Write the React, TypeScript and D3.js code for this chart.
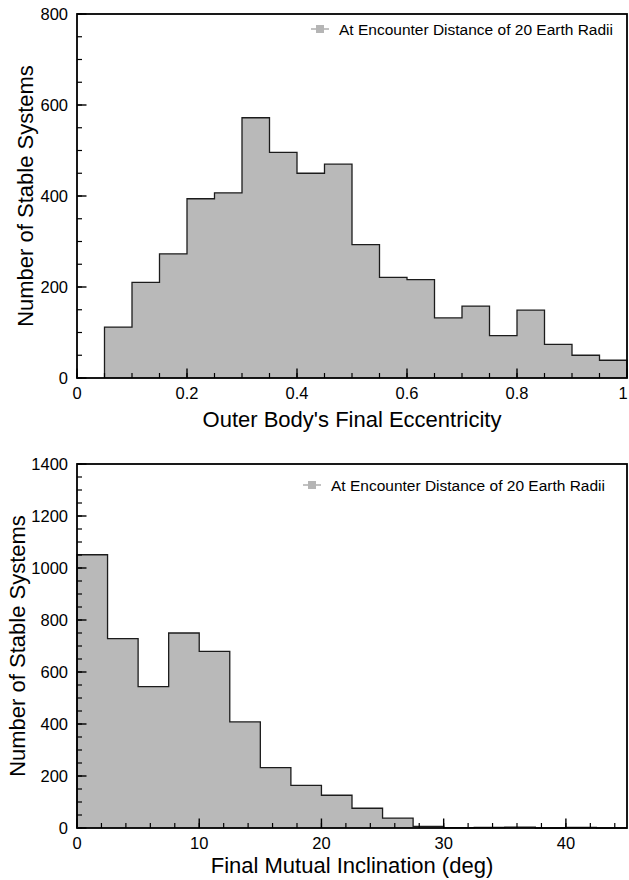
import React from "react";
import * as d3 from "d3";

// ---- Data ----
const eccBinEdges = [0.05, 0.1, 0.15, 0.2, 0.25, 0.3, 0.35, 0.4, 0.45, 0.5, 0.55, 0.6, 0.65, 0.7, 0.75, 0.8, 0.85, 0.9, 0.95, 1.0];
const eccCounts = [112, 210, 273, 394, 407, 572, 496, 450, 470, 293, 221, 216, 132, 158, 93, 149, 74, 50, 39];
const eccXTicks = [0, 0.2, 0.4, 0.6, 0.8, 1];
const eccYTicks = [0, 200, 400, 600, 800];

const incBinEdges = [0, 2.5, 5, 7.5, 10, 12.5, 15, 17.5, 20, 22.5, 25, 27.5, 30, 32.5, 35, 37.5, 40, 42.5, 45];
const incCounts = [1051, 728, 544, 750, 679, 408, 232, 164, 126, 76, 38, 6, 1, 2, 3, 0, 2, 0];
const incXTicks = [0, 10, 20, 30, 40];
const incYTicks = [0, 200, 400, 600, 800, 1000, 1200, 1400];

const legendLabel = "At Encounter Distance of 20 Earth Radii";
const yTitle = "Number of Stable Systems";

const FONT = "'Liberation Sans', Arial, Helvetica, sans-serif";

type PanelProps = {
  edges: number[];
  counts: number[];
  xDomain: [number, number];
  yDomain: [number, number];
  xTicks: number[];
  xMinorStep: number;
  yTicks: number[];
  yMinorStep: number;
  top: number;
  bottom: number;
  xTitle: string;
  xTitleY: number;
  yTitleX: number;
  legendX: number;
  legendY: number;
  fmt: (v: number) => string;
};

function Panel(p: PanelProps) {
  const left = 77;
  const right = 627;
  const x = d3.scaleLinear().domain(p.xDomain).range([left, right]);
  const y = d3.scaleLinear().domain(p.yDomain).range([p.bottom, p.top]);

  const n = p.counts.length;
  const pts: [number, number][] = [];
  pts.push([p.edges[0], 0]);
  for (let i = 0; i < n; i++) {
    pts.push([p.edges[i], p.counts[i]]);
    pts.push([p.edges[i + 1], p.counts[i]]);
  }
  pts.push([p.edges[n], 0]);
  const line = d3.line<[number, number]>().x((d) => x(d[0])).y((d) => y(d[1]));
  const path = line(pts) || "";
  const fillPath = path + "Z";

  const xMinor = d3.range(p.xDomain[0], p.xDomain[1] + 1e-9, p.xMinorStep);
  const yMinor = d3.range(p.yDomain[0], p.yDomain[1] + 1e-9, p.yMinorStep);
  const midY = (p.top + p.bottom) / 2;

  return (
    <g>
      <path d={fillPath} fill="#b9b9b9" stroke="none" />
      <path d={path} fill="none" stroke="#1c1c1c" strokeWidth={1.3} />
      {xMinor.map((v, i) => (
        <line key={"xm" + i} x1={x(v)} x2={x(v)} y1={p.bottom} y2={p.bottom - 5} stroke="#000" strokeWidth={1.2} />
      ))}
      {p.xTicks.map((v, i) => (
        <line key={"xM" + i} x1={x(v)} x2={x(v)} y1={p.bottom} y2={p.bottom - 9.5} stroke="#000" strokeWidth={1.4} />
      ))}
      {yMinor.map((v, i) => (
        <line key={"ym" + i} x1={left} x2={left + 5} y1={y(v)} y2={y(v)} stroke="#000" strokeWidth={1.2} />
      ))}
      {p.yTicks.map((v, i) => (
        <line key={"yM" + i} x1={left} x2={left + 9.5} y1={y(v)} y2={y(v)} stroke="#000" strokeWidth={1.4} />
      ))}
      <rect x={left} y={p.top} width={right - left} height={p.bottom - p.top} fill="none" stroke="#000" strokeWidth={1.8} />
      {p.xTicks.map((v, i) => (
        <text
          key={"xl" + i}
          x={Math.min(x(v), 623)}
          y={p.bottom + 21}
          textAnchor="middle"
          fontSize={16.5}
          fontFamily={FONT}
          fill="#000"
        >
          {p.fmt(v)}
        </text>
      ))}
      {p.yTicks.map((v, i) => (
        <text key={"yl" + i} x={68} y={y(v)} dy="0.36em" textAnchor="end" fontSize={16.5} fontFamily={FONT} fill="#000">
          {String(v)}
        </text>
      ))}
      <text x={(left + right) / 2} y={p.xTitleY} textAnchor="middle" fontSize={22} fontFamily={FONT} fill="#000">
        {p.xTitle}
      </text>
      <text
        transform={`translate(${p.yTitleX},${midY}) rotate(-90)`}
        textAnchor="middle"
        fontSize={22}
        fontFamily={FONT}
        fill="#000"
      >
        {yTitle}
      </text>
      <g>
        <line x1={p.legendX} x2={p.legendX + 18} y1={p.legendY} y2={p.legendY} stroke="#999" strokeWidth={1.2} />
        <rect x={p.legendX + 5} y={p.legendY - 4} width={8} height={8} fill="#b5b5b5" />
        <text x={p.legendX + 28} y={p.legendY} dy="0.36em" fontSize={15.5} fontFamily={FONT} fill="#000">
          {legendLabel}
        </text>
      </g>
    </g>
  );
}

export default function App() {
  return (
    <svg width={629} height={880} style={{ position: "absolute", left: 0, top: 0, background: "#fff" }}>
      <rect x={0} y={0} width={629} height={880} fill="#fff" />
      <Panel
        edges={eccBinEdges}
        counts={eccCounts}
        xDomain={[0, 1]}
        yDomain={[0, 800]}
        xTicks={eccXTicks}
        xMinorStep={0.05}
        yTicks={eccYTicks}
        yMinorStep={50}
        top={14}
        bottom={378}
        xTitle="Outer Body's Final Eccentricity"
        xTitleY={427}
        yTitleX={33}
        legendX={311}
        legendY={29}
        fmt={(v) => (v === 0 || v === 1 ? String(v) : v.toFixed(1))}
      />
      <Panel
        edges={incBinEdges}
        counts={incCounts}
        xDomain={[0, 45]}
        yDomain={[0, 1400]}
        xTicks={incXTicks}
        xMinorStep={2}
        yTicks={incYTicks}
        yMinorStep={50}
        top={464}
        bottom={828}
        xTitle="Final Mutual Inclination (deg)"
        xTitleY={873}
        yTitleX={25}
        legendX={303}
        legendY={485}
        fmt={(v) => String(v)}
      />
    </svg>
  );
}
